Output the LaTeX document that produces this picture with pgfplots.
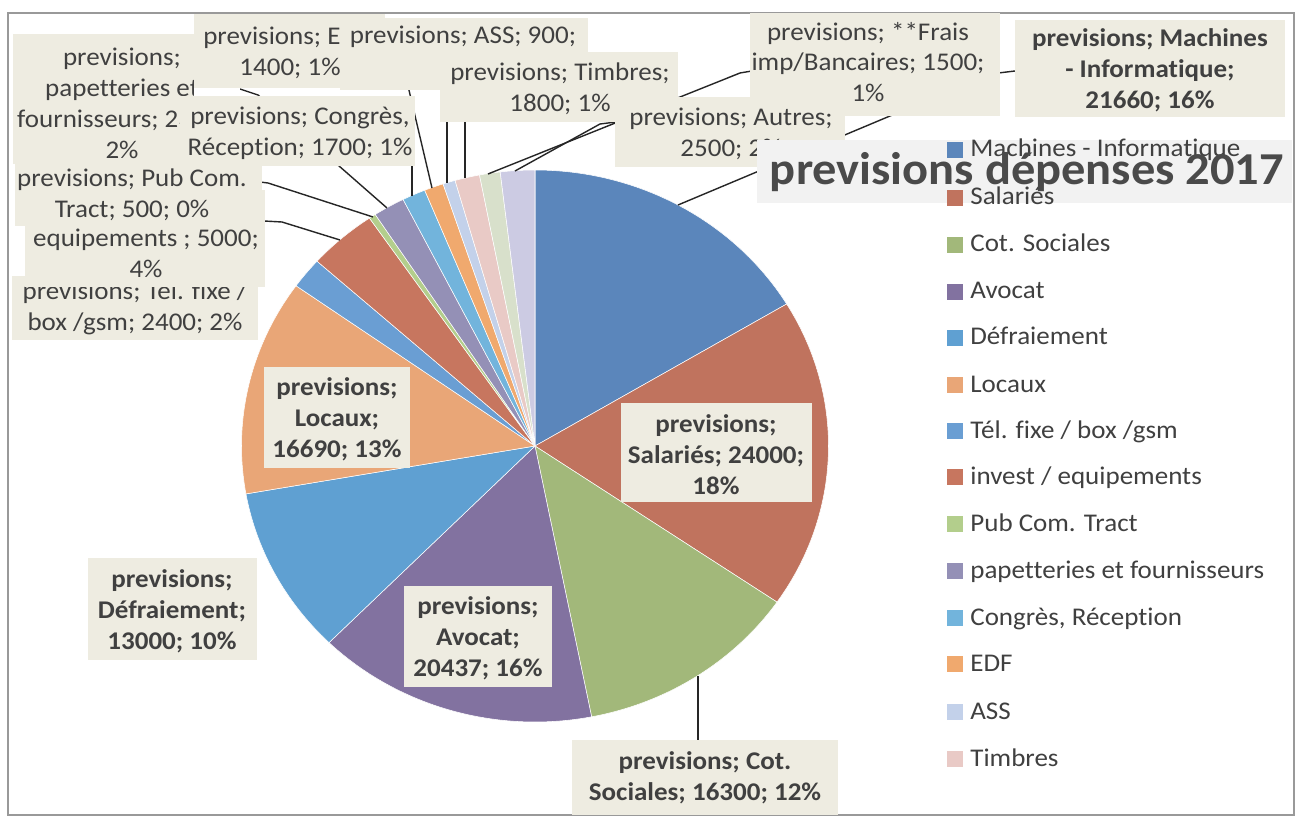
\documentclass[border=0pt]{standalone}
\usepackage{pgfplots}
\pgfplotsset{compat=1.18}
\usepackage{xfp}
\usepackage{fontspec}
\setmainfont{Carlito}[FakeStretch=1.06,Ligatures=NoCommon]
\definecolor{txt}{HTML}{404040}
\definecolor{lbg}{HTML}{EEECE1}
\definecolor{ttl}{HTML}{4A4A4A}
\definecolor{tbg}{HTML}{F2F2F2}
\definecolor{c1}{HTML}{5B86BB}
\definecolor{c2}{HTML}{C0735E}
\definecolor{c3}{HTML}{A2B87A}
\definecolor{c4}{HTML}{8272A0}
\definecolor{c5}{HTML}{5FA0D2}
\definecolor{c6}{HTML}{E9A677}
\definecolor{c7}{HTML}{6A9ED3}
\definecolor{c8}{HTML}{C7765F}
\definecolor{c9}{HTML}{B3CE8C}
\definecolor{c10}{HTML}{9490B6}
\definecolor{c11}{HTML}{72B4DC}
\definecolor{c12}{HTML}{F0A96E}
\definecolor{c13}{HTML}{C3D1EA}
\definecolor{c14}{HTML}{E9CAC6}
\definecolor{c15}{HTML}{D8E0CB}
\definecolor{c16}{HTML}{CCCBE3}
% previsions 2017: Machines, Salaries, Cot. Sociales, Avocat, Defraiement, Locaux,
% Tel, invest, Pub, papetteries, Congres, EDF, ASS, Timbres, Frais, Autres
\newcommand\vals{21660,24000,16300,20437,13000,16690,2400,5000,500,2300,1700,1400,900,1800,1500,2500}
\def\total{0}
\foreach \v in \vals {\xdef\total{\fpeval{\total+\v}}}
\def\cum{0}
\foreach \v [count=\i] in \vals {%
  \expandafter\xdef\csname sA\i\endcsname{\fpeval{90-360*\cum/\total}}%
  \xdef\cum{\fpeval{\cum+\v}}%
  \expandafter\xdef\csname eA\i\endcsname{\fpeval{90-360*\cum/\total}}%
}
\newcommand\lf{\fontsize{14.5}{17.6}\selectfont}
% label box: x1 y1 x2 y2 cx cy font text
\newcommand\lab[8]{%
  \fill[lbg] (axis cs:#1,#2) rectangle (axis cs:#3,#4);
  \node[align=center,text=txt,inner sep=0pt,font=\lf#7] at (axis cs:#5,#6) {#8};}
\newcommand\leg[3]{%
  \fill[#1] (axis cs:947,{#2-6}) rectangle (axis cs:963,{#2+10});
  \node[anchor=base west,text=txt,inner sep=0pt,font=\lf] at (axis cs:970,{#2+9}) {#3};}
\begin{document}
\begin{tikzpicture}
\begin{axis}[width=26cm,height=16.42cm,scale only axis,
  xmin=0,xmax=1300,ymin=0,ymax=821,y dir=reverse,hide axis,clip=false]
\fill[white] (axis cs:0,0) rectangle (axis cs:1300,821);
\draw[black!40,line width=0.9pt] (axis cs:8,13) rectangle (axis cs:1294,815);
% pie
\pgfplotsinvokeforeach{1,...,16}{%
  \edef\tmp{\noexpand\addplot[fill=c#1,draw=white,line width=0.3pt,
    domain=\csname eA#1\endcsname:\csname sA#1\endcsname,samples=60]
    ({535+293.5*cos(x)},{446-276*sin(x)}) -- (axis cs:535,446) -- cycle;}\tmp}
% leader lines
\begin{scope}[draw=black!85,line width=0.8pt]
\draw (axis cs:678,205) -- (axis cs:990,74) -- (axis cs:1015,71);
\draw (axis cs:488,174) -- (axis cs:740,73) -- (axis cs:752,71);
\draw (axis cs:515,171) -- (axis cs:600,124) -- (axis cs:616,122);
\draw (axis cs:465,178) -- (axis cs:465,120);
\draw (axis cs:447,183) -- (axis cs:447,88);
\draw (axis cs:432,188) -- (axis cs:408,86);
\draw (axis cs:412,196) -- (axis cs:412,165);
\draw (axis cs:387,208) -- (axis cs:258,95) -- (axis cs:240,89);
\draw (axis cs:373,217) -- (axis cs:268,183) -- (axis cs:260,182);
\draw (axis cs:340,240) -- (axis cs:282,222) -- (axis cs:264,221);
\draw (axis cs:698,676) -- (axis cs:698,740);
\end{scope}
% data labels
\lab{1015}{20}{1285}{117}{1150}{70}{\bfseries}{previsions; Machines\\- Informatique;\\21660; 16\%}
\lab{621}{403}{812}{502}{716}{455}{\bfseries}{previsions;\\Salariés; 24000;\\18\%}
\lab{572}{740}{838}{815}{705}{778}{\bfseries}{previsions; Cot.\\Sociales; 16300; 12\%}
\lab{404}{586}{552}{687}{478}{638}{\bfseries}{previsions;\\Avocat;\\20437; 16\%}
\lab{88}{558}{257}{660}{172}{611}{\bfseries}{previsions;\\Défraiement;\\13000; 10\%}
\lab{264}{367}{410}{468}{337}{419}{\bfseries}{previsions;\\Locaux;\\16690; 13\%}
\lab{12}{276}{258}{340}{135}{308}{}{previsions; Tél. fixe /\\box /gsm; 2400; 2\%}
\lab{25}{190}{265}{287}{146}{253}{}{equipements ; 5000;\\4\%}
\lab{15}{162}{262}{226}{132}{195}{}{previsions; Pub Com.\\Tract; 500; 0\%}
\lab{13}{34}{232}{164}{122}{103}{}{previsions;\\papetteries et\\fournisseurs; 2300;\\2\%}
\fill[white] (axis cs:194,76) rectangle (axis cs:240,97);
\lab{180}{96}{415}{166}{300}{133}{}{previsions; Congrès,\\Réception; 1700; 1\%}
\lab{194}{14}{385}{88}{290}{53}{}{previsions; EDF;\\1400; 1\%}
\lab{340}{18}{588}{90}{463}{37}{}{previsions; ASS; 900;}
\lab{440}{52}{678}{122}{560}{89}{}{previsions; Timbres;\\1800; 1\%}
\lab{750}{13}{1000}{116}{868}{62}{}{previsions; **Frais\\imp/Bancaires; 1500;\\1\%}
\lab{615}{97}{845}{167}{731}{134}{}{previsions; Autres;\\2500; 2\%}
% title background
\fill[tbg] (axis cs:757,140) rectangle (axis cs:1292,203);
% legend
\leg{c1}{148}{Machines - Informatique}
\leg{c2}{196}{Salariés}
\leg{c3}{243}{Cot. Sociales}
\leg{c4}{290}{Avocat}
\leg{c5}{336}{Défraiement}
\leg{c6}{383}{Locaux}
\leg{c7}{429}{Tél. fixe / box /gsm}
\leg{c8}{475}{invest / equipements}
\leg{c9}{522}{Pub Com. Tract}
\leg{c10}{569}{papetteries et fournisseurs}
\leg{c11}{616}{Congrès, Réception}
\leg{c12}{662}{EDF}
\leg{c13}{710}{ASS}
\leg{c14}{757}{Timbres}
% title
\node[text=ttl,inner sep=0pt,font=\fontsize{26}{30}\selectfont\bfseries] at (axis cs:1027,172) {previsions dépenses 2017};
\end{axis}
\pgfresetboundingbox
\useasboundingbox (current axis.south west) rectangle (current axis.north east);
\end{tikzpicture}
\end{document}
